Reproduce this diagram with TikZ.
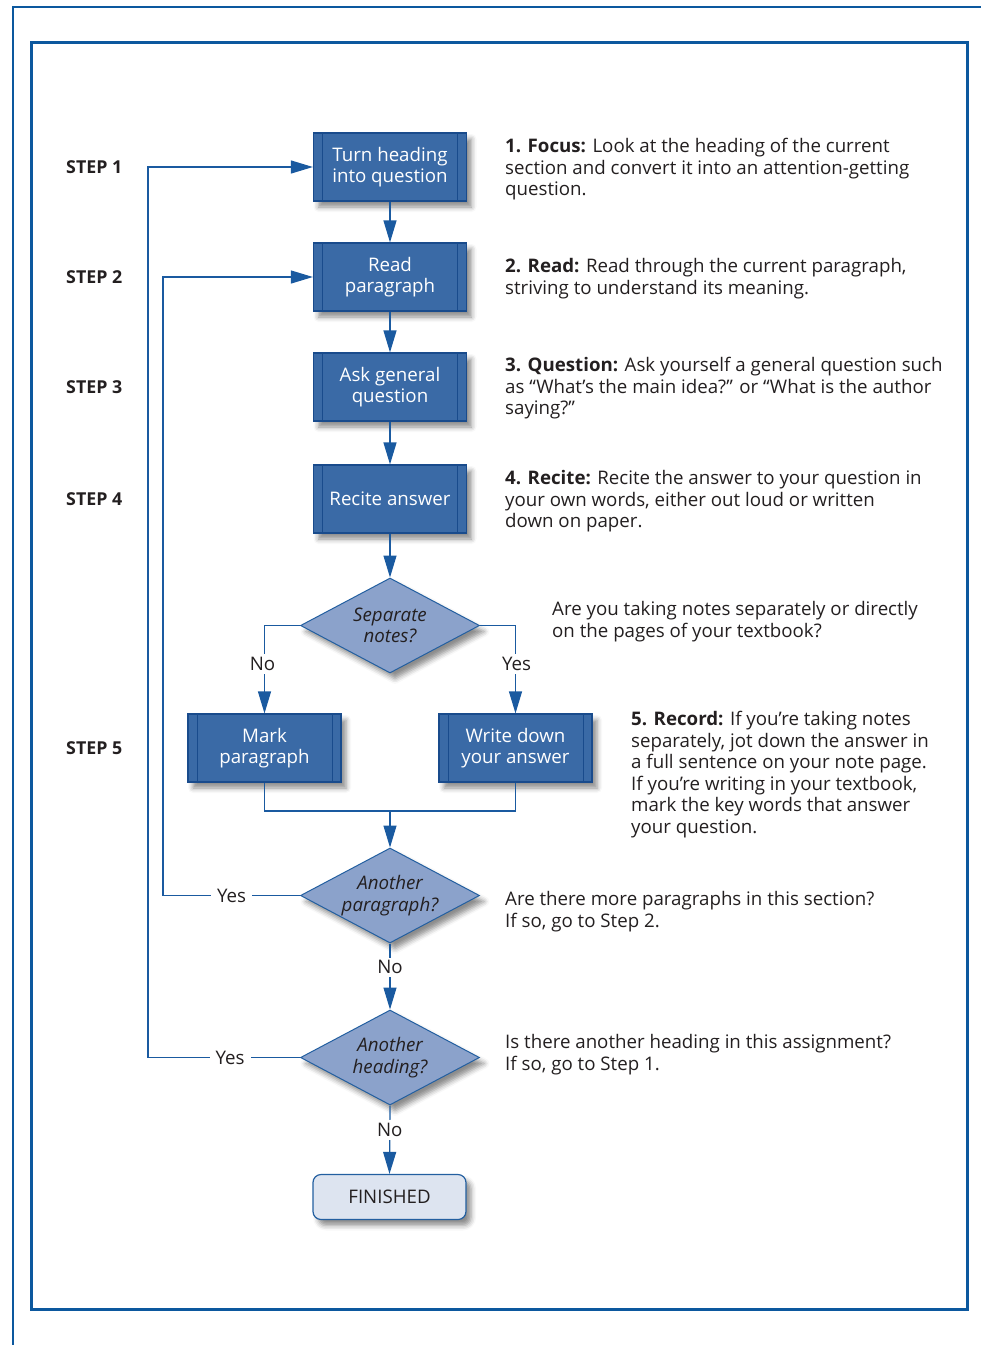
\documentclass[tikz,border=0pt]{standalone}
\usepackage{fontspec}
\setmainfont{Open Sans}
\usetikzlibrary{arrows.meta,shapes.geometric,shadows.blur}

\definecolor{framecol}{RGB}{12,88,158}
\definecolor{linecol}{RGB}{26,90,160}
\definecolor{boxfill}{RGB}{58,106,166}
\definecolor{boxdraw}{RGB}{25,75,140}
\definecolor{diafill}{RGB}{139,162,203}
\definecolor{diadraw}{RGB}{35,95,160}
\definecolor{finfill}{RGB}{221,228,240}
\definecolor{textcol}{RGB}{35,31,32}

\newcommand{\bodyfont}{\fontsize{18.7}{21.6}\selectfont}

\begin{document}
\begin{tikzpicture}[x=1pt,y=-1pt,
  font=\bodyfont, text=textcol,
  softshadow/.style={blur shadow={shadow xshift=5pt,shadow yshift=-6pt,
      shadow blur radius=5pt,shadow opacity=45}},
  stepbox/.style={draw=boxdraw,fill=boxfill,line width=1.2pt,
    minimum width=153pt,minimum height=68pt,inner sep=0pt,
    text=white,align=center,softshadow,
    path picture={\draw[boxdraw,line width=1pt]
      ([xshift=9pt]path picture bounding box.north west) --
      ([xshift=9pt]path picture bounding box.south west)
      ([xshift=-9pt]path picture bounding box.north east) --
      ([xshift=-9pt]path picture bounding box.south east);}},
  decision/.style={shape=diamond,draw=diadraw,fill=diafill,line width=1pt,
    minimum width=179pt,minimum height=95pt,aspect=1.88,inner sep=0pt,
    align=center,font=\bodyfont\itshape,softshadow},
  finish/.style={draw=diadraw,fill=finfill,line width=1.2pt,rounded corners=8pt,
    minimum width=153pt,minimum height=45pt,inner sep=0pt,softshadow},
  link/.style={draw=linecol,line width=1.2pt},
  arr/.style={link,-{Triangle[length=22pt,width=13pt]}},
  lab/.style={fill=white,inner xsep=6pt,inner ysep=3pt},
  steplab/.style={anchor=west,inner sep=0pt,font=\fontsize{17.8}{20}\selectfont\bfseries},
  desc/.style={anchor=north west,inner sep=0pt,align=left},
  frameline/.style={draw=framecol,line width=2.6pt}]

\useasboundingbox (0,0) rectangle (981,1345);

% page frames
\draw[frameline] (13,1345) -- (13,7) -- (981,7);
\draw[frameline,line width=3pt] (31,42) rectangle (967,1309);

% flow nodes
\node[stepbox] (focus) at (390,167) {Turn heading\\into question};
\node[stepbox] (read) at (390,277) {Read\\paragraph};
\node[stepbox] (ask) at (390,387) {Ask general\\question};
\node[stepbox] (recite) at (390,499) {Recite answer};
\node[decision] (sep) at (390,625.5) {Separate\\notes?};
\node[stepbox] (mark) at (264.5,748) {Mark\\paragraph};
\node[stepbox] (write) at (515.5,748) {Write down\\your answer};
\node[decision] (morepar) at (390,895.5) {Another\\paragraph?};
\node[decision] (morehead) at (390,1057.5) {Another\\heading?};
\node[finish] (done) at (389.5,1197) {FINISHED};

% step labels
\node[steplab] (s1) at (66,167) {STEP 1};
\node[steplab] (s2) at (66,277) {STEP 2};
\node[steplab] (s3) at (66,387) {STEP 3};
\node[steplab] (s4) at (66,499) {STEP 4};
\node[steplab] (s5) at (66,748) {STEP 5};

% descriptions
\node[desc] (t1) at (505,138) {\textbf{1. Focus:} Look at the heading of the current\\section and convert it into an attention-getting\\question.};
\node[desc] (t2) at (505,258) {\textbf{2. Read:} Read through the current paragraph,\\striving to understand its meaning.};
\node[desc] (t3) at (505,357) {\textbf{3. Question:} Ask yourself a general question such\\as “What’s the main idea?” or “What is the author\\saying?”};
\node[desc] (t4) at (505,470) {\textbf{4. Recite:} Recite the answer to your question in\\your own words, either out loud or written\\down on paper.};
\node[desc] (t5) at (552,601) {Are you taking notes separately or directly\\on the pages of your textbook?};
\node[desc] (t6) at (631,711) {\textbf{5. Record:} If you’re taking notes\\separately, jot down the answer in\\a full sentence on your note page.\\If you’re writing in your textbook,\\mark the key words that answer\\your question.};
\node[desc] (t7) at (505,891) {Are there more paragraphs in this section?\\If so, go to Step 2.};
\node[desc] (t8) at (505,1034) {Is there another heading in this assignment?\\If so, go to Step 1.};

% main chain
\draw[arr] (focus) -- (read);
\draw[arr] (read) -- (ask);
\draw[arr] (ask) -- (recite);
\draw[arr] (recite) -- (sep);

% branch on note taking
\draw[arr] (sep.west) -| node[lab,pos=0.72,xshift=-2pt] {No} (mark.north);
\draw[arr] (sep.east) -| node[lab,pos=0.72,xshift=1pt] {Yes} (write.north);

% merge
\coordinate (merge) at (390,811);
\draw[link] (mark.south) |- (merge) -| (write.south);
\draw[arr] (merge) -- (morepar.north);

% loops back
\coordinate (loopread) at (163,895.5);
\draw[arr] (morepar.west) -- node[lab,pos=0.5] {Yes} (loopread) |- (read.west);
\draw[arr] (morepar.south) -- node[lab,pos=0.36] {No} (morehead.north);

\coordinate (loopfocus) at (148,1057.5);
\draw[arr] (morehead.west) -- node[lab,pos=0.46] {Yes} (loopfocus) |- (focus.west);
\draw[arr] (morehead.south) -- node[lab,pos=0.36] {No} (done.north);

\end{tikzpicture}
\end{document}
